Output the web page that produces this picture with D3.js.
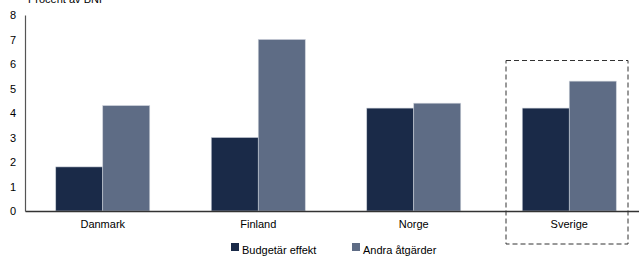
<!DOCTYPE html>
<html><head><meta charset="utf-8">
<script src="https://cdn.jsdelivr.net/npm/d3@7"></script>
<style>body{margin:0;background:#fff}svg{display:block;font-family:"Liberation Sans",Arial,sans-serif}</style>
</head><body>
<svg id="c" width="639" height="258"></svg>
<script>
const categories = ["Danmark", "Finland", "Norge", "Sverige"];
const seriesNames = ["Budgetär effekt", "Andra åtgärder"];
const budget = [1.8, 3.0, 4.2, 4.2];
const andra = [4.3, 7.0, 4.4, 5.3];
const yTicks = [0, 1, 2, 3, 4, 5, 6, 7, 8];
const colors = ["#1a2a48", "#5e6c85"];

const svg = d3.select("#c");
const x = d3.scaleBand().domain(categories).range([25, 647]);
const y = d3.scaleLinear().domain([0, 8]).range([211, 15]);
const barW = 47;
const series = [budget, andra];

series.forEach((vals, si) => {
  svg.append("g").selectAll("rect").data(vals).join("rect")
    .attr("x", (d, i) => x(categories[i]) + x.bandwidth() / 2 - barW + si * barW)
    .attr("y", d => y(d))
    .attr("width", barW)
    .attr("height", d => y(0) - y(d))
    .attr("fill", colors[si])
    .attr("stroke", "#c9ced8").attr("stroke-width", 0.6);
});

// y axis
const ya = svg.append("g").attr("transform", "translate(25,0)")
  .call(d3.axisLeft(y).tickValues(yTicks).tickSize(0).tickPadding(9));
ya.select(".domain").attr("stroke", "#555").attr("stroke-width", 1.2);
ya.selectAll("text").attr("font-size", 11).attr("fill", "#000").attr("font-family", "Liberation Sans, Arial, sans-serif");

// x axis
const xa = svg.append("g").attr("transform", "translate(0,211)")
  .call(d3.axisBottom(x).tickSize(0).tickPadding(9));
xa.select(".domain").attr("stroke", "#333").attr("stroke-width", 1.4);
xa.selectAll("text").attr("font-size", 11).attr("fill", "#000").attr("font-family", "Liberation Sans, Arial, sans-serif");

// title
svg.append("text").attr("x", 28).attr("y", 3).attr("font-size", 11).text("Procent av BNP");

// dashed highlight box
const sx = x("Sverige");
svg.append("rect").attr("x", sx + 14.5).attr("y", 60.5)
  .attr("width", 122).attr("height", 183.5)
  .attr("fill", "none").attr("stroke", "#333").attr("stroke-width", 1)
  .attr("stroke-dasharray", "5,3");

// legend
const legX = [231, 352];
seriesNames.forEach((n, i) => {
  svg.append("rect").attr("x", legX[i]).attr("y", 243).attr("width", 8).attr("height", 8).attr("fill", colors[i]);
  svg.append("text").attr("x", legX[i] + 11).attr("y", 253.5).attr("font-size", 11).text(n);
});
</script>
</body></html>
